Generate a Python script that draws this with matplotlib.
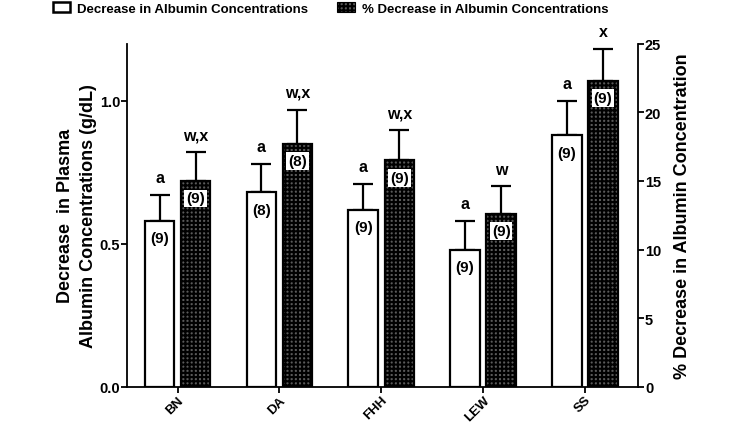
import matplotlib
matplotlib.use("Agg")
import matplotlib.pyplot as plt
import numpy as np
from matplotlib.patches import Patch

plt.rcParams['font.family'] = ['Liberation Sans', 'DejaVu Sans']
plt.rcParams['hatch.color'] = '#1c1c1c'
plt.rcParams['hatch.linewidth'] = 1.5

# data
strains = ["BN", "DA", "FHH", "LEW", "SS"]
dec_albumin = [0.58, 0.68, 0.62, 0.48, 0.88]          # g/dL
dec_albumin_err = [0.09, 0.10, 0.09, 0.10, 0.12]
pct_dec = [15.0, 17.7, 16.5, 12.6, 22.3]              # %
pct_dec_err = [2.1, 2.5, 2.2, 2.0, 2.3]
n_abs = ["(9)", "(8)", "(9)", "(9)", "(9)"]
n_pct = ["(9)", "(8)", "(9)", "(9)", "(9)"]
sig_abs = ["a", "a", "a", "a", "a"]
sig_pct = ["w,x", "w,x", "w,x", "w", "x"]

x = np.arange(len(strains))
width = 0.29
off = 0.177

fig = plt.figure(figsize=(7.47, 4.27), dpi=100)
ax = fig.add_axes([0.170, 0.092, 0.684, 0.803])
ax2 = ax.twinx()

ax.bar(x - off, dec_albumin, width, color='white', edgecolor='black', linewidth=1.6, zorder=2)
ax.errorbar(x - off, dec_albumin, yerr=[np.zeros(5), dec_albumin_err], fmt='none',
            ecolor='black', elinewidth=1.6, capsize=7, capthick=1.6, zorder=1)

ax2.bar(x + off, pct_dec, width, color='#5a5a5a', edgecolor='black', linewidth=1.6,
        hatch='++++', zorder=2)
ax2.errorbar(x + off, pct_dec, yerr=[np.zeros(5), pct_dec_err], fmt='none',
             ecolor='black', elinewidth=1.6, capsize=7, capthick=1.6, zorder=1)

for i in range(len(strains)):
    ax.annotate(n_abs[i], (x[i] - off, dec_albumin[i]), xytext=(0, -12.5),
                textcoords='offset points', ha='center', va='center',
                fontsize=11, fontweight='bold', zorder=5)
    ax.annotate(sig_abs[i], (x[i] - off, dec_albumin[i] + dec_albumin_err[i]),
                xytext=(0, 12.5), textcoords='offset points', ha='center', va='center',
                fontsize=11.5, fontweight='bold')
    ax2.annotate(n_pct[i], (x[i] + off, pct_dec[i]), xytext=(0, -12.5),
                 textcoords='offset points', ha='center', va='center',
                 fontsize=11, fontweight='bold', zorder=5,
                 bbox=dict(boxstyle='square,pad=0.12', fc='white', ec='none'))
    ax2.annotate(sig_pct[i], (x[i] + off, pct_dec[i] + pct_dec_err[i]),
                 xytext=(0, 12.5), textcoords='offset points', ha='center', va='center',
                 fontsize=11.5, fontweight='bold')

ax.set_xlim(-0.497, 4.52)
ax.set_ylim(0, 1.2)
ax2.set_ylim(0, 25)
ax.set_yticks([0.0, 0.5, 1.0])
ax.set_yticklabels(["0.0", "0.5", "1.0"])
ax2.set_yticks([0, 5, 10, 15, 20, 25])
ax.set_xticks(x)
ax.set_xticklabels(strains, rotation=45, ha='right', va='top', rotation_mode='anchor')

for a in (ax, ax2):
    a.spines['top'].set_visible(False)
    for s in a.spines.values():
        s.set_linewidth(1.3)
    a.tick_params(width=1.3, length=4, labelsize=10.5, pad=1)
    for lab in a.get_xticklabels() + a.get_yticklabels():
        lab.set_fontweight('bold')
ax.tick_params(axis='x', labelsize=9.5, pad=1)
ax.spines['right'].set_visible(False)
ax2.spines['left'].set_visible(False)
ax2.spines['bottom'].set_visible(False)

ax.set_ylabel("Decrease  in Plasma\nAlbumin Concentrations (g/dL)", fontsize=13,
              fontweight='bold', labelpad=2, linespacing=1.45)
ax2.set_ylabel("% Decrease in Albumin Concentration", fontsize=13,
               fontweight='bold', labelpad=9)

handles = [Patch(facecolor='white', edgecolor='black', linewidth=1.8,
                 label="Decrease in Albumin Concentrations"),
           Patch(facecolor='#5a5a5a', edgecolor='black', linewidth=0.8, hatch='++++',
                 label="% Decrease in Albumin Concentrations")]
fig.legend(handles=handles, loc='upper left', bbox_to_anchor=(0.055, 1.02), ncol=2,
           frameon=False, handlelength=1.3, handleheight=0.8, handletextpad=0.55,
           columnspacing=2.2, prop={'size': 9.5, 'weight': 'bold'})

fig.savefig("out.png", dpi=100)
